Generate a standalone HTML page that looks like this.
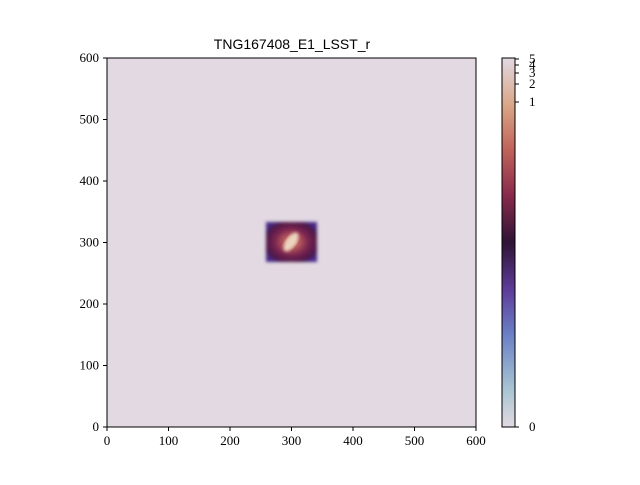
<!DOCTYPE html>
<html><head><style>
body{margin:0;background:#fff;}
svg text{font-family:"Liberation Serif",serif;font-size:13px;fill:#000;}
</style></head><body>
<svg width="640" height="480">
<defs>
<linearGradient id="cb" x1="0" y1="1" x2="0" y2="0">
<stop offset="0" stop-color="#e2d9e2"/>
<stop offset="0.1" stop-color="#a9c5d3"/>
<stop offset="0.25" stop-color="#6b80c6"/>
<stop offset="0.37" stop-color="#5e3d9b"/>
<stop offset="0.5" stop-color="#2f1436"/>
<stop offset="0.63" stop-color="#8a2b4c"/>
<stop offset="0.75" stop-color="#c0625a"/>
<stop offset="0.87" stop-color="#d9a586"/>
<stop offset="1" stop-color="#e2d9e2"/>
</linearGradient>
<radialGradient id="gal" cx="0.5" cy="0.5" r="0.6">
<stop offset="0" stop-color="#e8b890"/>
<stop offset="0.25" stop-color="#b85a5c"/>
<stop offset="0.55" stop-color="#7a2450"/>
<stop offset="0.85" stop-color="#4a1848"/>
<stop offset="1" stop-color="#4a2a8a"/>
</radialGradient>
<filter id="bl"><feGaussianBlur stdDeviation="1.5"/></filter>
</defs>
<text x="292" y="49" text-anchor="middle" style="font-family:'Liberation Sans',sans-serif;font-size:14px">TNG167408_E1_LSST_r</text>
<rect x="107" y="58" width="369" height="369" fill="#e2d9e2"/>
<rect x="266" y="222" width="51" height="40" fill="url(#gal)" filter="url(#bl)"/>
<ellipse cx="291" cy="242" rx="5" ry="11" transform="rotate(35 291 242)" fill="#ecd4c0" filter="url(#bl)"/>
<rect x="107" y="58" width="369" height="369" fill="none" stroke="#000" stroke-width="1"/>
<g id="xt"></g>
<g id="yt"></g>
<rect x="502" y="58" width="13" height="369" fill="url(#cb)" stroke="#000" stroke-width="1"/>
<g id="ct"></g>
</svg>
<script>
const xTicks=[0,100,200,300,400,500,600];
const yTicks=[0,100,200,300,400,500,600];
const cbTicks=["0","1","2","3","4","5"];
const cbTickY=[427,102,84,73,65,59];
const ns="http://www.w3.org/2000/svg";
const xs=v=>107+v*369/600, ys=v=>427-v*369/600;
function mk(t,a,p,txt){const e=document.createElementNS(ns,t);for(const k in a)e.setAttribute(k,a[k]);if(txt!==undefined)e.textContent=txt;p.appendChild(e);return e;}
const xg=document.getElementById('xt'),yg=document.getElementById('yt'),cg=document.getElementById('ct');
xTicks.forEach(v=>{const x=xs(v);
const l=mk('line',{x1:x,x2:x,y1:427,y2:431,stroke:'#000'},xg);


const t=mk('text',{x:x,y:445,'text-anchor':'middle'},xg,v);

});
yTicks.forEach(v=>{const y=ys(v);
const l=mk('line',{x1:103,x2:107,y1:y,y2:y,stroke:'#000'},yg);


const t=mk('text',{x:99,y:y+4,'text-anchor':'end'},yg,v);

});
cbTicks.forEach((v,i)=>{const y=cbTickY[i];
const l=mk('line',{x1:515,x2:519,y1:y,y2:y,stroke:'#000'},cg);


const t=mk('text',{x:529,y:y+4},cg,v);

});
</script>
</body></html>
